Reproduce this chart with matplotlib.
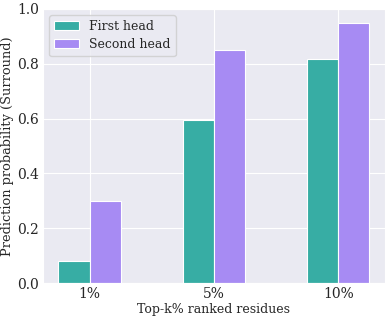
import numpy as np
import matplotlib
matplotlib.use("Agg")
import matplotlib.pyplot as plt
import seaborn as sns

# данные
categories = ["1%", "5%", "10%"]
first_head = [0.08, 0.595, 0.817]
second_head = [0.30, 0.85, 0.948]

sns.set_style("darkgrid")
plt.rcParams['font.family'] = ['DejaVu Serif']

fig, ax = plt.subplots(figsize=(3.9, 3.17), dpi=100)
x = np.arange(len(categories))
w = 0.25
ax.bar(x - w / 2, first_head, w, color="#37ada4", edgecolor="white", linewidth=0.8, label="First head")
ax.bar(x + w / 2, second_head, w, color="#a78bf3", edgecolor="white", linewidth=0.8, label="Second head")

ax.set_xticks(x)
ax.set_xticklabels(categories, fontsize=10)
ax.tick_params(axis="both", labelsize=10, length=0, pad=3)
ax.set_ylim(0, 1.0)
ax.set_xlabel("Top-k% ranked residues", fontsize=9, labelpad=1)
ax.set_ylabel("Prediction probability (Surround)", fontsize=9.3, labelpad=2)
ax.legend(loc="upper left", fontsize=9, borderaxespad=0.5, labelspacing=0.4)

plt.subplots_adjust(left=0.11, right=0.987, top=0.972, bottom=0.107)
plt.savefig("out.png")
